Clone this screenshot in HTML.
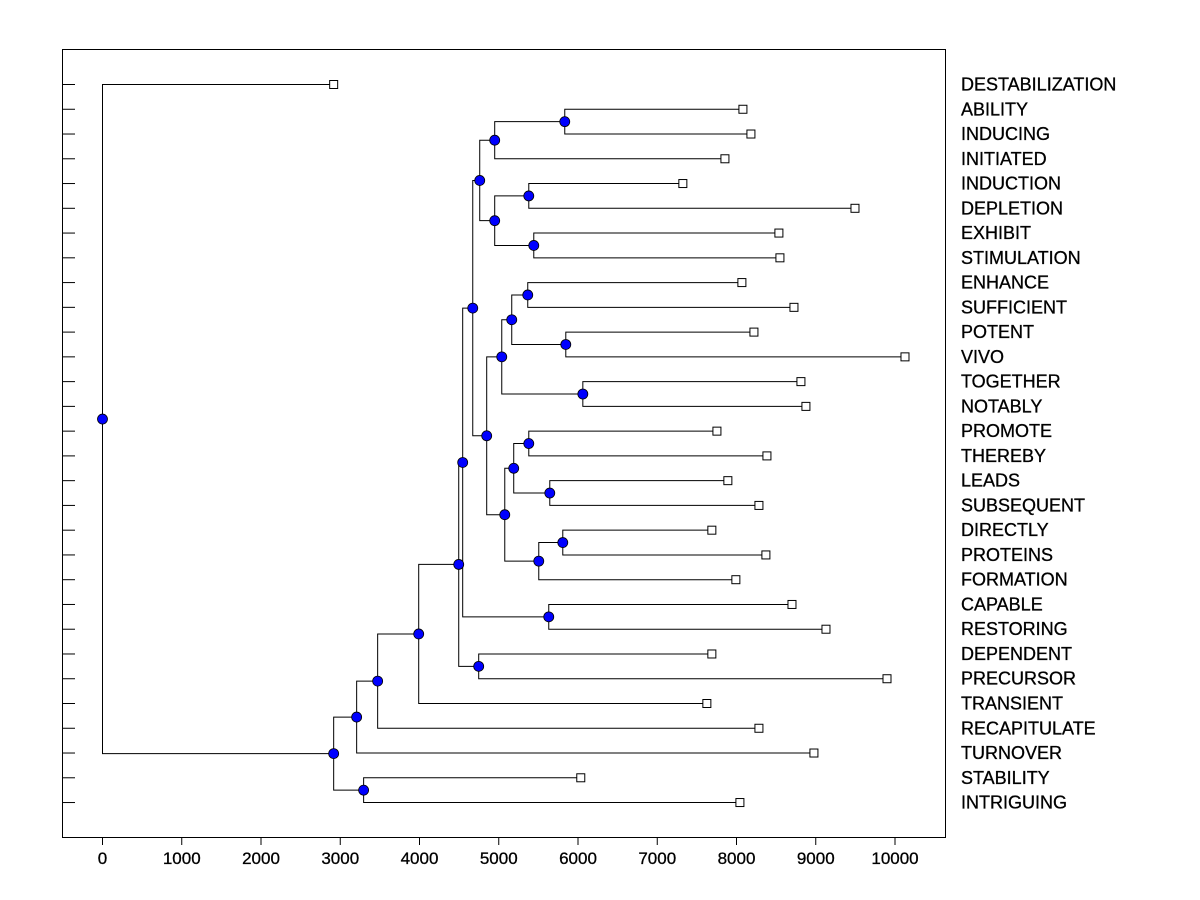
<!DOCTYPE html>
<html><head><meta charset="utf-8"><style>
html,body{margin:0;padding:0;background:#fff;}
svg{display:block;font-family:"Liberation Sans",Arial,sans-serif;}
</style></head><body>
<svg id="chart" width="1200" height="900">
<rect x="62.5" y="49.5" width="883" height="788" fill="#fff" stroke="#000" stroke-width="1"/>
<g id="g"></g>
</svg>
<script>
const leafNames = ["DESTABILIZATION","ABILITY","INDUCING","INITIATED","INDUCTION","DEPLETION","EXHIBIT","STIMULATION","ENHANCE","SUFFICIENT","POTENT","VIVO","TOGETHER","NOTABLY","PROMOTE","THEREBY","LEADS","SUBSEQUENT","DIRECTLY","PROTEINS","FORMATION","CAPABLE","RESTORING","DEPENDENT","PRECURSOR","TRANSIENT","RECAPITULATE","TURNOVER","STABILITY","INTRIGUING"];
const leafValues = [2917,8081,8182,7854,7323,9495,8535,8548,8068,8725,8220,10126,8813,8876,7753,8384,7891,8283,7689,8371,7992,8700,9129,7689,9899,7626,8283,8977,6035,8043];
// internal nodes: ids start at 30
const nodeLeft  = [1,30,4,6,32,31,8,10,36,12,38,14,16,41,18,44,43,40,35,21,48,23,50,52,53,54,28,55,0];
const nodeRight = [2,3,5,7,33,34,9,11,37,13,39,15,17,42,19,20,45,46,47,22,49,24,51,25,26,27,29,56,57];
const nodeHeight= [5833,4949,5379,5442,4949,4760,5366,5846,5164,6061,5038,5379,5644,5189,5808,5505,5076,4848,4672,5631,4545,4747,4495,3990,3472,3207,3295,2917,0];
const xTicks = [0,1000,2000,3000,4000,5000,6000,7000,8000,9000,10000];

const NS="http://www.w3.org/2000/svg";
const g=document.getElementById('g');
const xs=v=>102+v*0.07925;
const ys=i=>84+i*24.76;
function mk(t,a){const e=document.createElementNS(NS,t);for(const k in a)e.setAttribute(k,a[k]);g.appendChild(e);return e;}
const n=leafNames.length;
const X=[],Y=[];
for(let i=0;i<n;i++){X[i]=xs(leafValues[i]);Y[i]=ys(i);}
for(let k=0;k<nodeHeight.length;k++){const id=n+k;X[id]=xs(nodeHeight[k]);Y[id]=(Y[nodeLeft[k]]+Y[nodeRight[k]])/2;}
for(let k=0;k<nodeHeight.length;k++){
  const id=n+k,a=nodeLeft[k],b=nodeRight[k];
  const p=mk('path',{d:`M${X[a]},${Y[a]+0.5}H${X[id]+0.5}V${Y[b]+0.5}H${X[b]}`,fill:'none',stroke:'#000','stroke-width':1});
  
  
}
for(let i=0;i<n;i++){
  const t=mk('line',{x1:62,x2:75,y1:Y[i]+0.5,y2:Y[i]+0.5,stroke:'#000'});
  
  
  const r=mk('rect',{x:X[i]-3.5,y:Y[i]-3.5,width:8,height:8,fill:'#fff',stroke:'#000'});
  
  
  const l=mk('text',{x:961,y:Y[i]+6.5,'font-size':18,fill:'#000',stroke:'#000','stroke-width':0.3});
  l.textContent=leafNames[i];
  
  
}
for(let k=0;k<nodeHeight.length;k++){
  const id=n+k;
  const c=mk('circle',{cx:X[id]+0.5,cy:Y[id]+0.5,r:5,fill:'#0000ff',stroke:'#000','stroke-width':0.8});
  
  
}
for(const v of xTicks){
  const t=mk('line',{x1:xs(v)+0.5,x2:xs(v)+0.5,y1:837,y2:845,stroke:'#000'});
  
  
  const l=mk('text',{x:xs(v)+0.5,y:864,'font-size':17,'text-anchor':'middle',fill:'#000',stroke:'#000','stroke-width':0.3});
  l.textContent=v;
  
  
}
</script>
</body></html>
